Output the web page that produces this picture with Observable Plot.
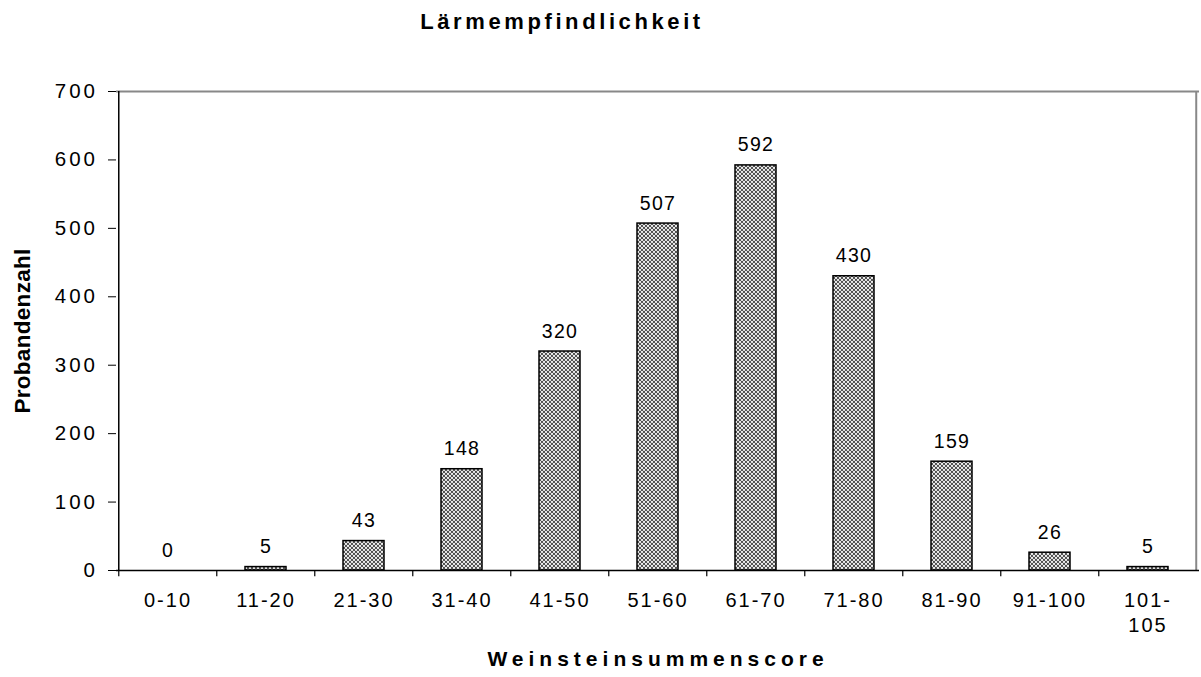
<!DOCTYPE html>
<html>
<head>
<meta charset="utf-8">
<script src="https://cdn.jsdelivr.net/npm/d3@7"></script>
<script src="https://cdn.jsdelivr.net/npm/@observablehq/plot@0.6"></script>
<style>
  html, body { margin: 0; padding: 0; background: #fff; }
  body { width: 1201px; height: 677px; position: relative; overflow: hidden; font-family: "Liberation Sans", Arial, sans-serif; }
  #title { position: absolute; left: 0; top: 0; width: 1124px; height: 50px; text-align: center;
           font-weight: bold; font-size: 22px; letter-spacing: 3.6px; line-height: 44px; color: #000; }
  #chart { position: absolute; left: 0; top: 50px; }
  #chart svg text { letter-spacing: 2px; }
  #chart svg .vals text { letter-spacing: 1.3px; }
  #chart svg .yax text { letter-spacing: 3px; }
  #chart svg .axlab text { letter-spacing: 5px; }
  #chart svg .ylab text { letter-spacing: 0.3px; }
</style>
</head>
<body>
<div id="title">Lärmempfindlichkeit</div>
<div id="chart"></div>
<script>
const categories = ["0-10", "11-20", "21-30", "31-40", "41-50", "51-60", "61-70", "71-80", "81-90", "91-100", "101-\n105"];
const counts = [0, 5, 43, 148, 320, 507, 592, 430, 159, 26, 5];
const yTicks = [0, 100, 200, 300, 400, 500, 600, 700];
const xLabel = "Weinsteinsummenscore";
const yLabel = "Probandenzahl";

const data = categories.map((c, i) => ({cat: c, value: counts[i]}));

const W = 1201, H = 627;
const mL = 116, mR = 2, mT = 41, mB = 107;
const step = (W - mL - mR) / categories.length;

const plot = Plot.plot({
  width: W,
  height: H,
  marginLeft: mL,
  marginRight: mR,
  marginTop: mT,
  marginBottom: mB,
  style: {fontFamily: "'Liberation Sans', Arial, sans-serif", fontSize: "20px", color: "#000", background: "#fff"},
  x: {domain: categories, paddingInner: 0.58, paddingOuter: 0.29, axis: null},
  y: {domain: [0, 700], axis: null},
  marks: [
    // top & right gray border
    Plot.ruleY([700], {stroke: "#888", strokeWidth: 2}),
    Plot.ruleX([categories[categories.length - 1]], {dx: step / 2 - 1, y1: 0, y2: 700, stroke: "#888", strokeWidth: 2}),
    // bars
    Plot.barY(data, {x: "cat", y: "value", fill: "url(#hatch)", stroke: "#000", strokeWidth: 1.5}),
    // y axis
    Plot.axisY({ticks: yTicks, tickSize: 8, tickPadding: 10.5, fontSize: 20.5, label: null, className: "yax", stroke: "#000"}),
    Plot.ruleX([categories[0]], {dx: -step / 2, y1: 0, y2: 700, stroke: "#000", strokeWidth: 1.5}),
    // x axis line & boundary ticks
    Plot.ruleY([0], {stroke: "#000", strokeWidth: 1.5}),
    Plot.ruleX(categories, {x: d => d, dx: -step / 2, y1: 0, y2: -9, stroke: "#000", strokeWidth: 1.2}),
    // category labels
    Plot.text(categories, {x: d => d, y: 0, text: d => d, lineAnchor: "top", dy: 18, fontSize: 20, lineHeight: 1.28, fill: "#000"}),
    // value labels
    Plot.text(data, {x: "cat", y: "value", text: d => String(d.value), lineAnchor: "bottom", dy: -14, fontSize: 19.5, className: "vals", fill: "#000"}),
    // axis titles
    Plot.text([xLabel], {frameAnchor: "bottom", dy: 95, fontWeight: "bold", fontSize: 21, className: "axlab", fill: "#000"}),
    Plot.text([yLabel], {frameAnchor: "left", textAnchor: "middle", rotate: -90, dx: -94, fontWeight: "bold", fontSize: 22.5, className: "ylab", fill: "#000"})
  ]
});

// pattern definition for bar fill
const ns = "http://www.w3.org/2000/svg";
const defs = document.createElementNS(ns, "defs");
defs.innerHTML = `
  <pattern id="hatch" width="4" height="4" patternUnits="userSpaceOnUse">
    <rect width="4" height="4" fill="#404040"></rect>
    <circle cx="0" cy="0" r="1.15" fill="#f0f0f0"></circle>
    <circle cx="4" cy="0" r="1.15" fill="#f0f0f0"></circle>
    <circle cx="0" cy="4" r="1.15" fill="#f0f0f0"></circle>
    <circle cx="4" cy="4" r="1.15" fill="#f0f0f0"></circle>
    <circle cx="2" cy="2" r="1.15" fill="#f0f0f0"></circle>
  </pattern>`;
plot.insertBefore(defs, plot.firstChild);
document.getElementById("chart").appendChild(plot);
</script>
</body>
</html>
